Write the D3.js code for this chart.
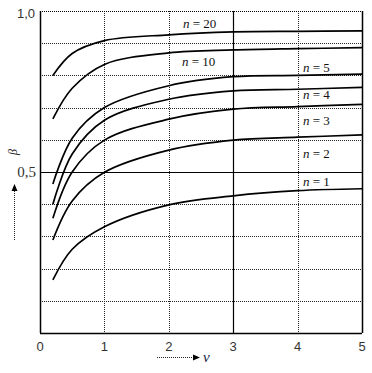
<!DOCTYPE html>
<html>
<head>
<meta charset="utf-8">
<script src="https://cdn.jsdelivr.net/npm/d3@7"></script>
<style>
  body { margin: 0; background: #fff; }
  svg { display: block; }
</style>
</head>
<body>
<svg id="chart" width="372" height="373"></svg>
<script>
// abscissa values where the curves were read
var nuValues = [0.2, 0.5, 1, 2, 3, 4, 5];

// beta values per curve
var n20 = [0.800, 0.868, 0.908, 0.926, 0.935, 0.937, 0.938];
var n10 = [0.665, 0.760, 0.834, 0.870, 0.879, 0.883, 0.886];
var n5  = [0.463, 0.605, 0.700, 0.768, 0.796, 0.800, 0.804];
var n4  = [0.400, 0.556, 0.661, 0.726, 0.752, 0.757, 0.763];
var n3  = [0.356, 0.500, 0.599, 0.664, 0.695, 0.703, 0.710];
var n2  = [0.289, 0.410, 0.499, 0.568, 0.599, 0.608, 0.615];
var n1  = [0.165, 0.260, 0.330, 0.398, 0.426, 0.442, 0.448];

var curveNames = ["n = 20", "n = 10", "n = 5", "n = 4", "n = 3", "n = 2", "n = 1"];
var curveValues = [n20, n10, n5, n4, n3, n2, n1];

var xTicks = [0, 1, 2, 3, 4, 5];
var yGrid = [0.1, 0.2, 0.3, 0.4, 0.6, 0.7, 0.8, 0.9];

var margin = { top: 11, left: 40, right: 10, bottom: 40 };

var svg = d3.select("#chart");

var x = d3.scaleLinear().domain([0, 5]).range([margin.left, 362]);
var y = d3.scaleLinear().domain([0, 1]).range([333, margin.top]);

var dotted = "1,1";
function px(v) { return Math.round(v) + 0.5; }

// horizontal dotted grid
svg.append("g").selectAll("line")
    .data(yGrid)
  .enter().append("line")
    .attr("x1", x(0)).attr("x2", x(5))
    .attr("y1", function(d) { return px(y(d)); })
    .attr("y2", function(d) { return px(y(d)); })
    .attr("stroke", "#222")
    .attr("stroke-dasharray", dotted)
;

// vertical dotted grid (1, 2, 4)
svg.append("g").selectAll("line")
    .data([1, 2, 4])
  .enter().append("line")
    .attr("x1", function(d) { return px(x(d)); })
    .attr("x2", function(d) { return px(x(d)); })
    .attr("y1", y(1)).attr("y2", y(0))
    .attr("stroke", "#222")
    .attr("stroke-dasharray", dotted)
;

// solid reference lines: 0.5 and nu = 3
svg.append("line")
    .attr("x1", x(0)).attr("x2", x(5))
    .attr("y1", px(y(0.5))).attr("y2", px(y(0.5)))
    .attr("stroke", "#000").attr("stroke-width", 1.2);
svg.append("line")
    .attr("x1", px(x(3))).attr("x2", px(x(3)))
    .attr("y1", y(1)).attr("y2", y(0))
    .attr("stroke", "#000").attr("stroke-width", 1.2);

// frame
svg.append("line") // top, dotted
    .attr("x1", x(0)).attr("x2", x(5))
    .attr("y1", px(y(1))).attr("y2", px(y(1)))
    .attr("stroke", "#000").attr("stroke-dasharray", dotted);
svg.append("line") // bottom
    .attr("x1", x(0)).attr("x2", x(5))
    .attr("y1", px(y(0))).attr("y2", px(y(0)))
    .attr("stroke", "#000").attr("stroke-width", 1.5);
svg.append("line") // left
    .attr("x1", px(x(0))).attr("x2", px(x(0)))
    .attr("y1", y(1)).attr("y2", y(0))
    .attr("stroke", "#000").attr("stroke-width", 1.5);
svg.append("line") // right
    .attr("x1", px(x(5))).attr("x2", px(x(5)))
    .attr("y1", y(1)).attr("y2", y(0))
    .attr("stroke", "#000").attr("stroke-width", 1.5);

// curves
var line = d3.line()
    .x(function(d) { return x(d[0]); })
    .y(function(d) { return y(d[1]); })
    .curve(d3.curveCatmullRom.alpha(0.5))
;
svg.append("g").selectAll("path")
    .data(curveValues)
  .enter().append("path")
    .attr("d", function(vals) { return line(d3.zip(nuValues, vals)); })
    .attr("fill", "none")
    .attr("stroke", "#000")
    .attr("stroke-width", 1.7)
;

// curve labels
var labelPos = [[183, 23], [182, 61], [303, 67], [303, 94], [303, 120], [303, 153], [303, 181]];
var labels = svg.append("g")
    .attr("font-family", "'Liberation Serif', 'DejaVu Serif', serif")
    .attr("font-size", 13)
    .attr("fill", "#111");
labels.selectAll("text")
    .data(curveNames)
  .enter().append("text")
    .attr("x", function(d, i) { return labelPos[i][0]; })
    .attr("y", function(d, i) { return labelPos[i][1]; })
    .attr("dy", "0.35em")
    .each(function(d) {
        var parts = d.split(" = ");
        var t = d3.select(this);
        t.append("tspan").attr("font-style", "italic").text(parts[0]);
        t.append("tspan").text(" = " + parts[1]);
    })
;

// x tick labels
svg.append("g").selectAll("text")
    .data(xTicks)
  .enter().append("text")
    .attr("x", function(d) { return x(d); })
    .attr("y", 346)
    .attr("dy", "0.35em")
    .attr("text-anchor", "middle")
    .attr("font-family", "'Liberation Sans', Arial, sans-serif")
    .attr("font-size", 13)
    .attr("fill", "#333")
    .text(function(d) { return d; })
;

// y labels
svg.append("text")
    .attr("x", 35).attr("y", y(1) + 2)
    .attr("dy", "0.35em")
    .attr("text-anchor", "end")
    .attr("font-family", "'Liberation Sans', Arial, sans-serif")
    .attr("font-size", 13)
    .attr("fill", "#333")
    .text("1,0");
svg.append("text")
    .attr("x", 36).attr("y", y(0.5))
    .attr("dy", "0.35em")
    .attr("text-anchor", "end")
    .attr("font-family", "'Liberation Serif', serif")
    .attr("font-size", 15)
    .attr("fill", "#333")
    .text("0,5");

// axis titles with dotted arrows
svg.append("text")
    .attr("transform", "translate(13,152) rotate(-90)")
    .attr("text-anchor", "middle")
    .attr("dy", "0.35em")
    .attr("font-family", "'Liberation Serif', serif")
    .attr("font-style", "italic")
    .attr("font-size", 12)
    .attr("fill", "#222")
    .text("β");
svg.append("line")
    .attr("x1", 14.5).attr("x2", 14.5).attr("y1", 240).attr("y2", 190)
    .attr("stroke", "#222").attr("stroke-dasharray", dotted);
svg.append("path")
    .attr("d", "M14.5,184 L11.5,191 L17.5,191 Z")
    .attr("fill", "#000");

svg.append("line")
    .attr("x1", 157).attr("x2", 194).attr("y1", 357.5).attr("y2", 357.5)
    .attr("stroke", "#222").attr("stroke-dasharray", dotted);
svg.append("path")
    .attr("d", "M200,357.5 L193,354.5 L193,360.5 Z")
    .attr("fill", "#000");
svg.append("text")
    .attr("x", 203).attr("y", 357)
    .attr("dy", "0.35em")
    .attr("font-family", "'Liberation Serif', serif")
    .attr("font-style", "italic")
    .attr("font-size", 15)
    .attr("fill", "#102040")
    .text("ν");
</script>
</body>
</html>
